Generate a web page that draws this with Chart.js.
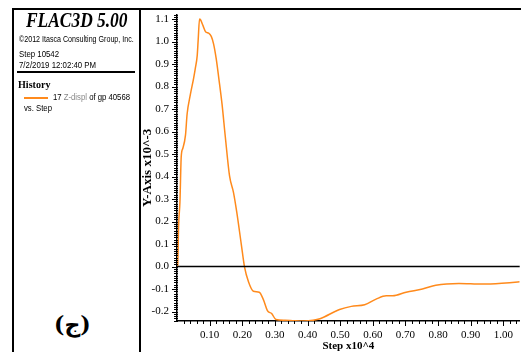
<!DOCTYPE html>
<html>
<head>
<meta charset="utf-8">
<script src="https://cdn.jsdelivr.net/npm/chart.js@4"></script>
<style>
  body { margin: 0; background: #fff; }
  #wrap { position: relative; width: 521px; height: 352px; overflow: hidden; background: #fff; }
  #plot { position: absolute; left: 140px; top: 0; width: 381px; height: 352px; }
  .ln { position: absolute; background: #000; }
  .t { position: absolute; white-space: nowrap; color: #000; transform-origin: 0 0; }
  .sans { font-family: "Liberation Sans", Arial, sans-serif; font-size: 9px; line-height: 11px; }
</style>
</head>
<body>
<div id="wrap">
  <div id="plot"><canvas id="histChart"></canvas></div>

  <div class="ln" style="left:12px;top:8px;width:509px;height:2px"></div>
  <div class="ln" style="left:12px;top:8px;width:2px;height:344px"></div>
  <div class="ln" style="left:139px;top:8px;width:2px;height:344px"></div>
  <div class="ln" style="left:17px;top:71px;width:118px;height:2px"></div>

  <div class="t" style="left:26px;top:9px;font:italic bold 20px 'Liberation Serif',serif;transform:scaleX(0.87)">FLAC3D 5.00</div>
  <div class="t sans" style="left:19px;top:34px;transform:scaleX(0.79)">©2012 Itasca Consulting Group, Inc.</div>
  <div class="t sans" style="left:19px;top:49px;transform:scaleX(0.87)">Step 10542</div>
  <div class="t sans" style="left:19px;top:60px;transform:scaleX(0.87)">7/2/2019 12:02:40 PM</div>
  <div class="t" style="left:18px;top:78px;font:bold 11px 'Liberation Serif',serif;transform:scaleX(0.92)">History</div>
  <div class="ln" style="left:24px;top:97px;width:24px;height:2px;background:#ff8a1c"></div>
  <div class="t sans" style="left:53px;top:92px;transform:scaleX(0.86)">17 <span style="color:#888">Z-displ</span> of gp 40568</div>
  <div class="t sans" style="left:24px;top:103px;transform:scaleX(0.86)">vs. Step</div>
  <div class="t" style="left:54px;top:311px;font:bold 22px 'DejaVu Serif','DejaVu Sans',serif">(ج)</div>
</div>

<script>
// history: Z-displ (x10^-3) against step (x10^4)
const stepX = [0.000, 0.002, 0.005, 0.009, 0.013, 0.018, 0.026, 0.031, 0.041, 0.051,
  0.056, 0.062, 0.065, 0.069, 0.072, 0.080, 0.088, 0.097, 0.105, 0.112,
  0.120, 0.128, 0.138, 0.148, 0.161, 0.173, 0.183, 0.197, 0.207, 0.219,
  0.234, 0.252, 0.265, 0.277, 0.290, 0.303, 0.331, 0.360, 0.387, 0.417,
  0.438, 0.498, 0.534, 0.575, 0.610, 0.641, 0.661, 0.702, 0.752, 0.793,
  0.864, 0.935, 1.007, 1.050];
const zDispl = [0.000, 0.004, 0.186, 0.287, 0.490, 0.526, 0.584, 0.678, 0.765, 0.838,
  0.880, 0.939, 1.010, 1.100, 1.097, 1.070, 1.043, 1.038, 1.023, 0.990,
  0.925, 0.838, 0.722, 0.577, 0.403, 0.330, 0.243, 0.099, -0.003, -0.068,
  -0.110, -0.114, -0.148, -0.196, -0.209, -0.235, -0.239, -0.241, -0.242, -0.239,
  -0.232, -0.191, -0.177, -0.170, -0.145, -0.130, -0.130, -0.114, -0.100, -0.083,
  -0.075, -0.078, -0.073, -0.068];

// tick labels
const xTicks = [0.1, 0.2, 0.3, 0.4, 0.5, 0.6, 0.7, 0.8, 0.9, 1.0];
const yTicks = [-0.2, -0.1, 0.0, 0.1, 0.2, 0.3, 0.4, 0.5, 0.6, 0.7, 0.8, 0.9, 1.0, 1.1];

const xMin = 0, xMax = 1.05;
const yMin = -0.242, yMax = 1.12;

const serif = "'Liberation Serif', 'Times New Roman', serif";

// minor/major tick combs and the zero line
const axisDeco = {
  id: 'axisDeco',
  afterDraw(chart) {
    const ctx = chart.ctx;
    const xs = chart.scales.x, ys = chart.scales.y;
    const area = chart.chartArea;
    ctx.save();
    ctx.strokeStyle = '#000';
    ctx.lineWidth = 1;
    ctx.beginPath();
    for (let i = 1; i <= 52; i++) {
      const px = Math.round(xs.getPixelForValue(i / 50)) + 0.5;
      const len = i % 5 === 0 ? 5 : 3;
      ctx.moveTo(px, area.bottom);
      ctx.lineTo(px, area.bottom + len);
    }
    for (let i = -24; i <= 112; i++) {
      const py = Math.round(ys.getPixelForValue(i / 100)) + 0.5;
      const len = i % 10 === 0 ? 5 : 3;
      ctx.moveTo(area.left - len, py);
      ctx.lineTo(area.left + 1, py);
    }
    ctx.stroke();
    const y0 = ys.getPixelForValue(0);
    ctx.lineWidth = 1.5;
    ctx.beginPath();
    ctx.moveTo(area.left, y0);
    ctx.lineTo(area.right, y0);
    ctx.stroke();
    ctx.restore();
  }
};

new Chart(document.getElementById('histChart'), {
  type: 'line',
  data: {
    datasets: [{
      label: '17 Z-displ of gp 40568',
      data: stepX.map((x, i) => ({ x: x, y: zDispl[i] })),
      borderColor: '#ff8a1c',
      borderWidth: 1.5,
      pointRadius: 0,
      cubicInterpolationMode: 'monotone',
      fill: false
    }]
  },
  options: {
    responsive: true,
    maintainAspectRatio: false,
    animation: false,
    layout: { padding: { top: 9, left: 0, right: 0, bottom: 0 } },
    plugins: { legend: { display: false }, tooltip: { enabled: false } },
    scales: {
      x: {
        type: 'linear',
        min: xMin,
        max: xMax,
        afterBuildTicks: s => { s.ticks = xTicks.map(v => ({ value: v })); },
        afterFit: s => { s.height = 31; },
        grid: { display: false, drawTicks: false },
        border: { display: true, color: '#000', width: 1.5 },
        ticks: {
          autoSkip: false,
          maxRotation: 0,
          padding: 8,
          color: '#000',
          font: { family: serif, size: 11 },
          callback: v => v.toFixed(2)
        },
        title: {
          display: true,
          text: 'Step x10^4',
          color: '#000',
          padding: 0,
          font: { family: serif, size: 11, weight: 'bold', lineHeight: 1 }
        }
      },
      y: {
        min: yMin,
        max: yMax,
        afterBuildTicks: s => { s.ticks = yTicks.map(v => ({ value: v })); },
        afterFit: s => { s.width = 37; },
        grid: { display: false, drawTicks: false },
        border: { display: true, color: '#000', width: 1.5 },
        ticks: {
          autoSkip: false,
          padding: 8,
          color: '#000',
          font: { family: serif, size: 11 },
          callback: v => v.toFixed(1)
        },
        title: {
          display: true,
          text: 'Y-Axis x10^-3',
          color: '#000',
          padding: 0,
          font: { family: serif, size: 13, weight: 'bold' }
        }
      }
    }
  },
  plugins: [axisDeco]
});
</script>
</body>
</html>
